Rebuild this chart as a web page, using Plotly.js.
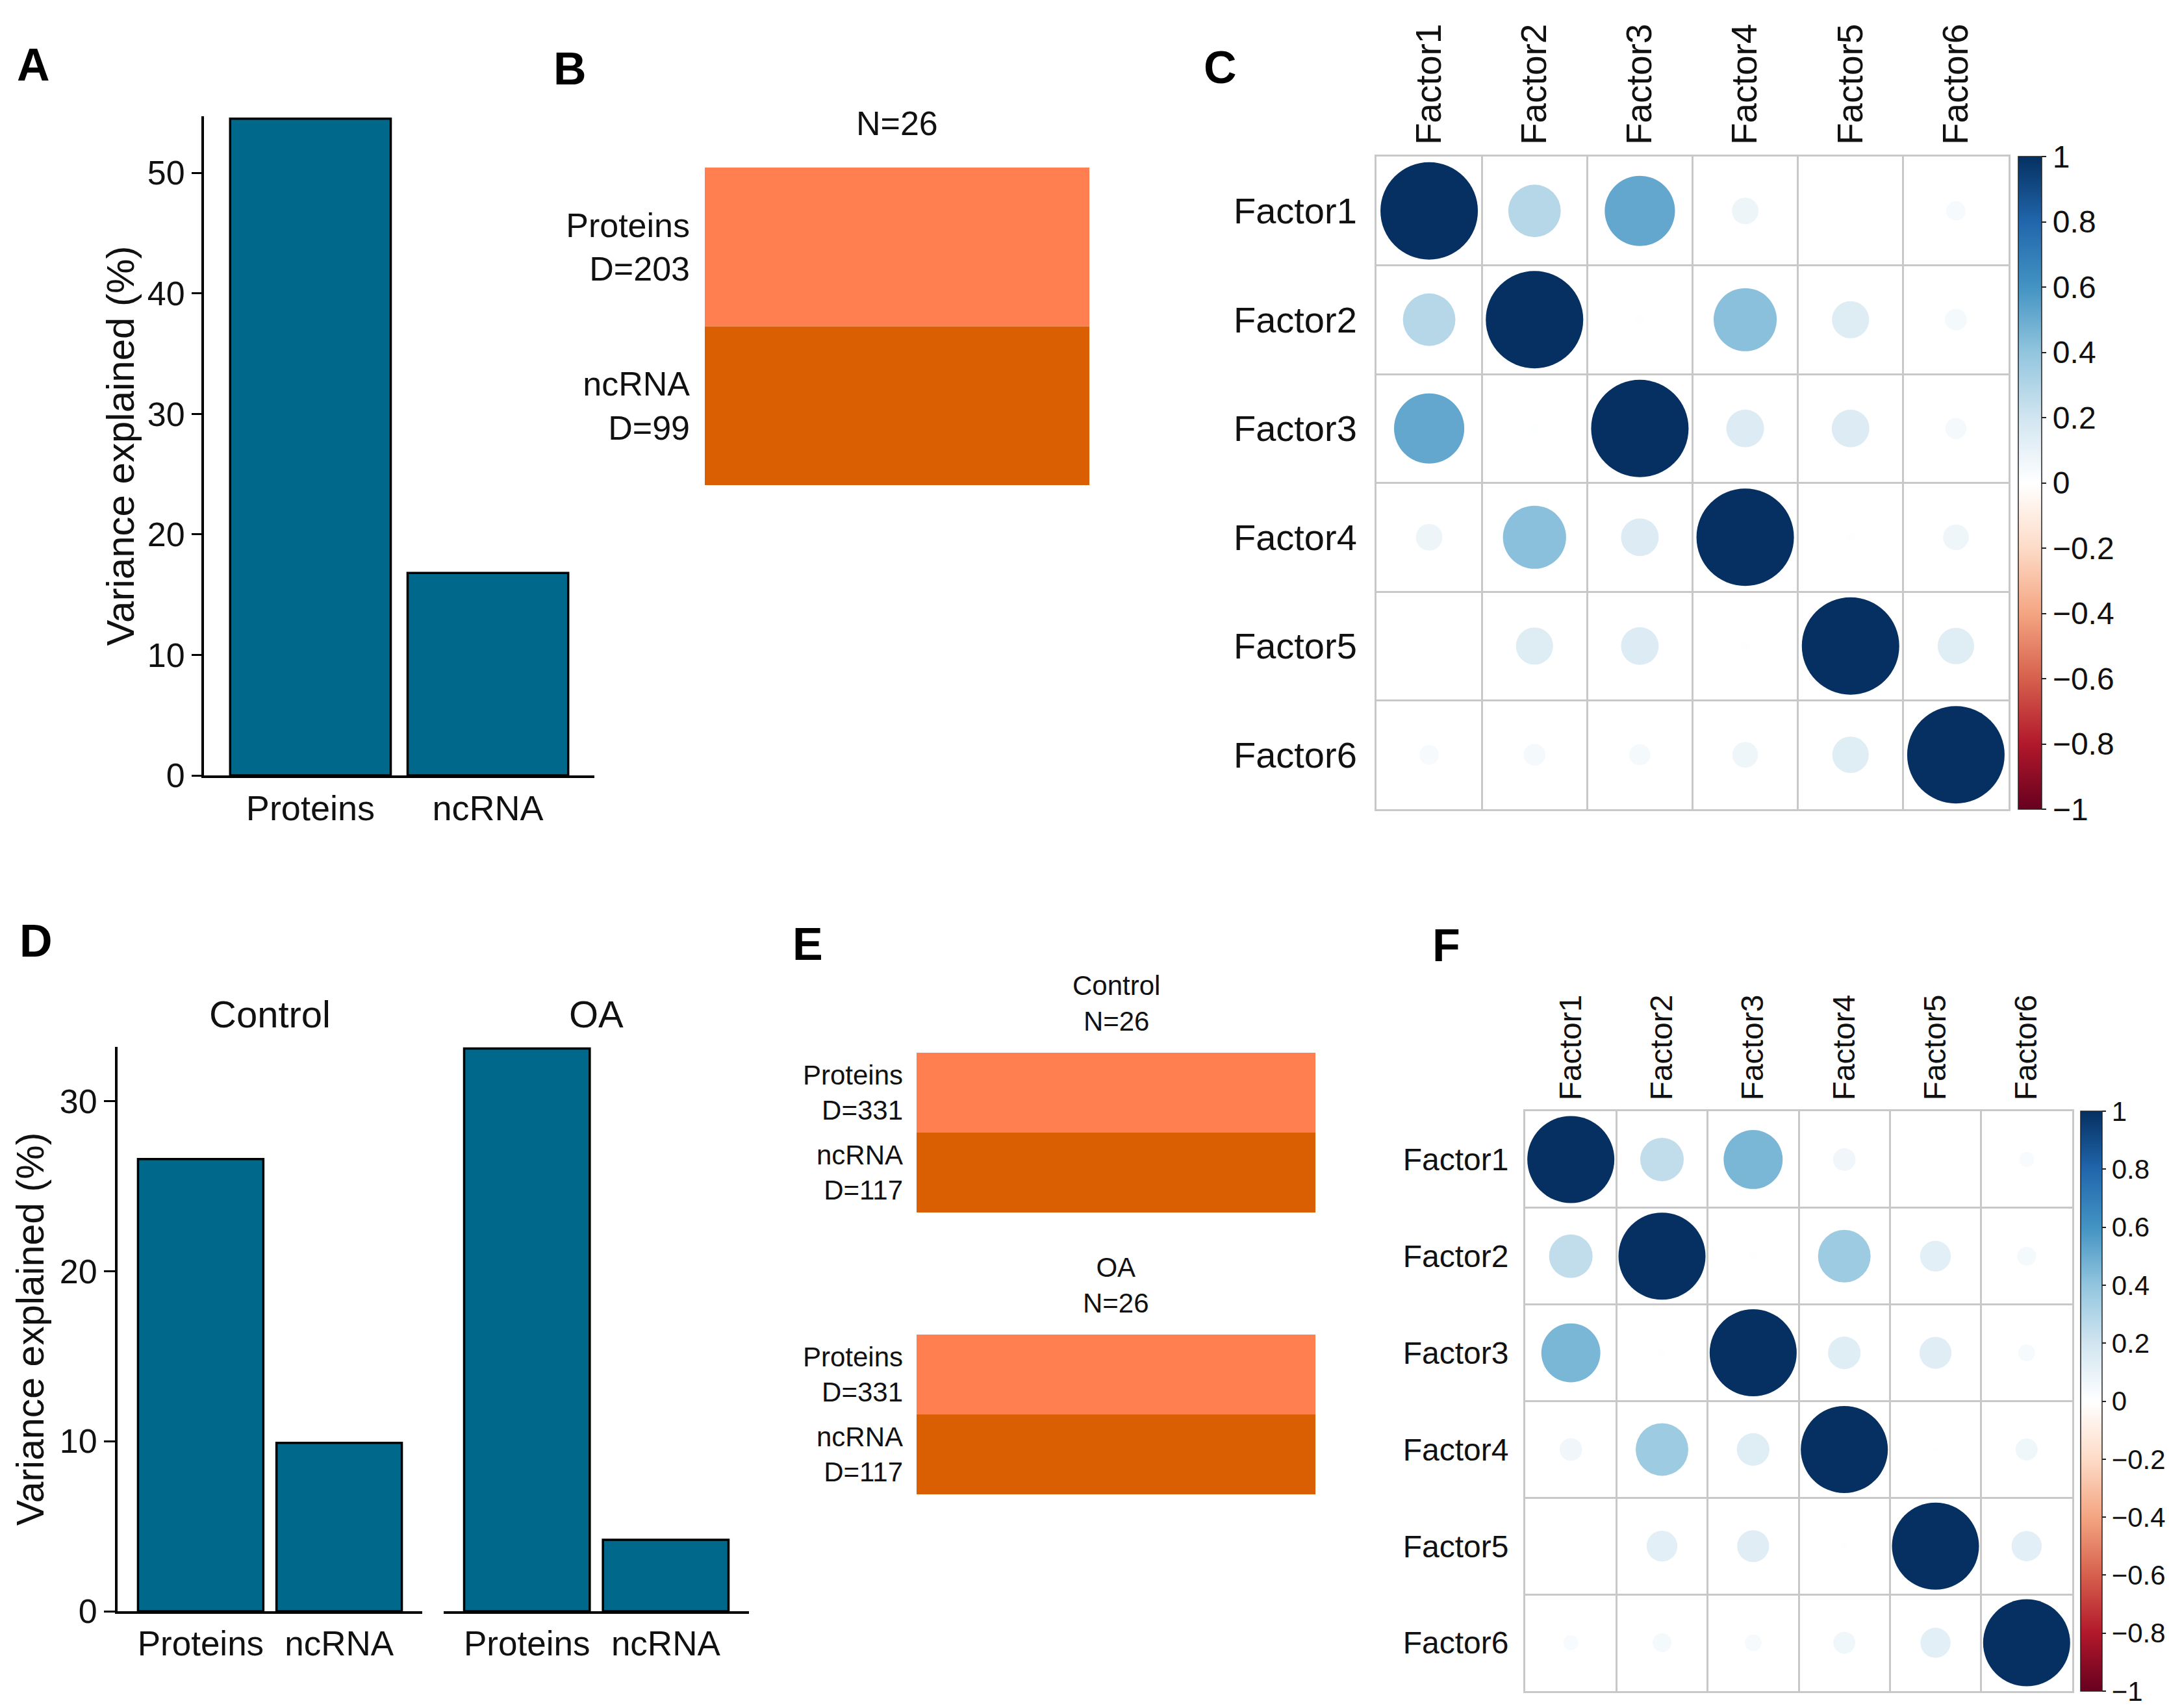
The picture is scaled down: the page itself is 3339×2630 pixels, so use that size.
<!DOCTYPE html>
<html>
<head>
<meta charset="utf-8">
<script src="https://cdn.plot.ly/plotly-3.0.1.min.js"></script>
<style>html,body{margin:0;padding:0;background:#fff;}</style>
</head>
<body>
<div id="chart" style="width:3339px;height:2630px;"></div>
<script>
// ---------------- data ----------------
const viewNames = ['Proteins', 'ncRNA'];
const varExplainedAll = [54.5, 16.8];          // panel A
const groupNames = ['Control', 'OA'];
const varExplainedControl = [26.6, 9.9];       // panel D, Control
const varExplainedOA = [33.1, 4.2];            // panel D, OA
const samplesAll = 26;                          // panel B, N
const featuresAll = [203, 99];                  // panel B, D per view
const samplesByGroup = [26, 26];                // panel E, N per group
const featuresByGroup = [331, 117];             // panel E, D per view
const factorNames = ['Factor1', 'Factor2', 'Factor3', 'Factor4', 'Factor5', 'Factor6'];
const corrC = [
  [1.00, 0.29, 0.52, 0.075, 0.00, 0.04],
  [0.29, 1.00, 0.01, 0.42, 0.145, 0.05],
  [0.52, 0.01, 1.00, 0.15, 0.15, 0.047],
  [0.075, 0.42, 0.15, 1.00, 0.01, 0.07],
  [0.00, 0.145, 0.15, 0.01, 1.00, 0.14],
  [0.04, 0.05, 0.047, 0.07, 0.14, 1.00]
];
const corrF = [
  [1.00, 0.25, 0.46, 0.067, 0.00, 0.03],
  [0.25, 1.00, 0.01, 0.365, 0.125, 0.047],
  [0.46, 0.01, 1.00, 0.14, 0.135, 0.037],
  [0.067, 0.365, 0.14, 1.00, 0.007, 0.064],
  [0.00, 0.125, 0.135, 0.007, 1.00, 0.12],
  [0.03, 0.047, 0.037, 0.064, 0.12, 1.00]
];
const colorbarTicks = [1, 0.8, 0.6, 0.4, 0.2, 0, -0.2, -0.4, -0.6, -0.8, -1];
const varTicksA = [0, 10, 20, 30, 40, 50];
const varTicksD = [0, 10, 20, 30];
const panelLetters = ['A', 'B', 'C', 'D', 'E', 'F'];

// ---------------- style ----------------
const W = 3339, H = 2630;
const FONT = 'Arial, "Liberation Sans", Helvetica, sans-serif';
const BAR_COLOR = '#00688B';
const VIEW_COLORS = ['#FF7F50', '#D95F02'];
const RDBU = [
  [0.0, '#67001F'], [0.1, '#B2182B'], [0.2, '#D6604D'], [0.3, '#F4A582'], [0.4, '#FDDBC7'],
  [0.5, '#FFFFFF'], [0.6, '#D1E5F0'], [0.7, '#92C5DE'], [0.8, '#4393C3'], [0.9, '#2166AC'], [1.0, '#053061']
];
const GRID = '#c8c8c8';
function dx(a, b) { return [a / W, b / W]; }
function dy(top, bottom) { return [1 - bottom / H, 1 - top / H]; }
function py(p) { return 1 - p / H; }

// ---------------- traces ----------------
const traces = [];
// A
traces.push({type: 'bar', x: viewNames, y: varExplainedAll, xaxis: 'x', yaxis: 'y',
  marker: {color: BAR_COLOR, line: {color: '#000', width: 3.5}}, hoverinfo: 'skip'});
// B
traces.push({type: 'bar', orientation: 'h', y: viewNames, x: viewNames.map(() => samplesAll),
  width: viewNames.map(() => 1), xaxis: 'x2', yaxis: 'y2',
  marker: {color: VIEW_COLORS, line: {width: 0}}, hoverinfo: 'skip'});
// D
traces.push({type: 'bar', x: viewNames, y: varExplainedControl, xaxis: 'x3', yaxis: 'y3',
  marker: {color: BAR_COLOR, line: {color: '#000', width: 3.5}}, hoverinfo: 'skip'});
traces.push({type: 'bar', x: viewNames, y: varExplainedOA, xaxis: 'x4', yaxis: 'y4',
  marker: {color: BAR_COLOR, line: {color: '#000', width: 3.5}}, hoverinfo: 'skip'});
// E
['x5', 'x6'].forEach((xa, gi) => {
  traces.push({type: 'bar', orientation: 'h', y: viewNames, x: viewNames.map(() => samplesByGroup[gi]),
    width: viewNames.map(() => 1), xaxis: xa, yaxis: 'y' + xa.slice(1),
    marker: {color: VIEW_COLORS, line: {width: 0}}, hoverinfo: 'skip'});
});
// C and F correlation circles
function corrTrace(mat, xa, ya, maxDiam, cb) {
  const xs = [], ys = [], sz = [], col = [];
  mat.forEach((row, i) => row.forEach((v, j) => {
    xs.push(factorNames[j]); ys.push(factorNames[i]); sz.push(Math.abs(v)); col.push(v);
  }));
  return {type: 'scatter', mode: 'markers', x: xs, y: ys, xaxis: xa, yaxis: ya, hoverinfo: 'skip',
    marker: {size: sz, sizemode: 'area', sizeref: 2 / (maxDiam * maxDiam), color: col, opacity: 1,
      cmin: -1, cmax: 1, colorscale: RDBU, showscale: true, line: {width: 0}, colorbar: cb}};
}
traces.push(corrTrace(corrC, 'x7', 'y7', 150, {
  x: 3107 / W, xanchor: 'left', xpad: 0, y: py(241), yanchor: 'top', ypad: 0,
  len: 1005 / H, lenmode: 'fraction', thickness: 36, thicknessmode: 'pixels',
  outlinewidth: 1.5, outlinecolor: '#222', tickvals: colorbarTicks, ticks: 'outside',
  ticklen: 7, tickwidth: 2, tickcolor: '#222', tickfont: {size: 48, color: '#111', family: FONT}
}));
traces.push(corrTrace(corrF, 'x8', 'y8', 134, {
  x: 3203 / W, xanchor: 'left', xpad: 0, y: py(1711), yanchor: 'top', ypad: 0,
  len: 893 / H, lenmode: 'fraction', thickness: 33, thicknessmode: 'pixels',
  outlinewidth: 1.5, outlinecolor: '#222', tickvals: colorbarTicks, ticks: 'outside',
  ticklen: 6, tickwidth: 2, tickcolor: '#222', tickfont: {size: 42, color: '#111', family: FONT}
}));

// ---------------- axes ----------------
const base = {showgrid: false, zeroline: false, fixedrange: true};
function barX(dom, anchor, fs) {
  return Object.assign({}, base, {domain: dom, anchor: anchor, type: 'category', range: [-0.6, 1.6],
    showline: true, linewidth: 4, linecolor: '#000', ticks: '', tickfont: {size: fs, color: '#111'}});
}
function barY(dom, anchor, rng, tv, fs, tfs, tl, so) {
  return Object.assign({}, base, {domain: dom, anchor: anchor, range: rng, tickvals: tv,
    ticks: 'outside', ticklen: tl, tickwidth: 3, tickcolor: '#000', showline: true, linewidth: 4,
    linecolor: '#000', tickfont: {size: fs, color: '#111'},
    title: {text: 'Variance explained (%)', font: {size: tfs, color: '#111'}, standoff: so}});
}
function ovX(dom, anchor, n) {
  return Object.assign({}, base, {domain: dom, anchor: anchor, range: [0, n], showticklabels: false,
    showline: false, ticks: ''});
}
function ovY(dom, anchor, feats, fs, standoff) {
  return Object.assign({}, base, {domain: dom, anchor: anchor, type: 'category', range: [1.5, -0.5],
    tickvals: viewNames, ticktext: viewNames.map((v, i) => v + '<br>D=' + feats[i]),
    ticks: '', showline: false, tickfont: {size: fs, color: '#111'}, ticklabelstandoff: standoff});
}
function corrAx(dom, anchor, isX, fs, standoff) {
  const ax = Object.assign({}, base, {domain: dom, anchor: anchor, type: 'category',
    categoryorder: 'array', categoryarray: factorNames, tickson: 'boundaries', ticks: '',
    showgrid: true, gridcolor: GRID, gridwidth: 3, showline: true, mirror: true,
    linecolor: GRID, linewidth: 3, tickfont: {size: fs, color: '#111'}, ticklabelstandoff: standoff});
  if (isX) { ax.range = [-0.5, 5.5]; ax.side = 'top'; ax.tickangle = -90; }
  else { ax.range = [5.5, -0.5]; }
  return ax;
}

const layout = {
  width: W, height: H, margin: {l: 0, r: 0, t: 0, b: 0, pad: 0},
  paper_bgcolor: '#fff', plot_bgcolor: 'rgba(0,0,0,0)', showlegend: false,
  font: {family: FONT, color: '#111'}, bargap: 0.095, hovermode: false,
  xaxis: barX(dx(314, 915), 'y', 54),
  yaxis: barY(dy(179, 1194), 'x', [0, 54.7], varTicksA, 52, 60, 15, 2),
  xaxis2: ovX(dx(1085, 1677), 'y2', samplesAll),
  yaxis2: ovY(dy(258, 747), 'x2', featuresAll, 52, 22),
  xaxis3: barX(dx(181, 650), 'y3', 53),
  yaxis3: barY(dy(1612, 2481), 'x3', [0, 33.2], varTicksD, 52, 59, 17, 6),
  xaxis4: barX(dx(683, 1153), 'y4', 53),
  yaxis4: Object.assign({}, base, {domain: dy(1612, 2481), anchor: 'x4', matches: 'y3',
    range: [0, 33.2], showticklabels: false, ticks: '', showline: false}),
  xaxis5: ovX(dx(1411, 2025), 'y5', samplesByGroup[0]),
  yaxis5: ovY(dy(1621, 1867), 'x5', featuresByGroup, 42, 20),
  xaxis6: ovX(dx(1411, 2025), 'y6', samplesByGroup[1]),
  yaxis6: ovY(dy(2055, 2301), 'x6', featuresByGroup, 42, 20),
  xaxis7: corrAx(dx(2119, 3092), 'y7', true, 55, 4),
  yaxis7: corrAx(dy(241, 1246), 'x7', false, 56, 16),
  xaxis8: corrAx(dx(2348, 3190), 'y8', true, 48, 4),
  yaxis8: corrAx(dy(1711, 2604), 'x8', false, 48, 13),
  annotations: []
};

// panel letters
const letterPos = [[51, 100], [878, 106], [1878, 104], [55, 1449], [1243, 1454], [2226, 1456]];
panelLetters.forEach((L, i) => {
  layout.annotations.push({text: '<b>' + L + '</b>', xref: 'paper', yref: 'paper',
    x: letterPos[i][0] / W, y: py(letterPos[i][1]), xanchor: 'center', yanchor: 'middle',
    showarrow: false, font: {size: 70, color: '#000', family: FONT}});
});
// B title
layout.annotations.push({text: 'N=' + samplesAll, xref: 'x2 domain', x: 0.5, yref: 'paper', y: py(190),
  xanchor: 'center', yanchor: 'middle', showarrow: false, font: {size: 52, color: '#111'}});
// D facet strips
[['x3 domain', groupNames[0]], ['x4 domain', groupNames[1]]].forEach(([xr, t]) => {
  layout.annotations.push({text: t, xref: xr, x: 0.5, yref: 'paper', y: py(1561),
    xanchor: 'center', yanchor: 'middle', showarrow: false, font: {size: 58, color: '#111'}});
});
// E group titles
[['x5 domain', 1545], ['x6 domain', 1979]].forEach(([xr, yc], gi) => {
  layout.annotations.push({text: groupNames[gi] + '<br>N=' + samplesByGroup[gi], xref: xr, x: 0.5,
    yref: 'paper', y: py(yc), xanchor: 'center', yanchor: 'middle', showarrow: false,
    font: {size: 42, color: '#111'}});
});

Plotly.newPlot('chart', traces, layout, {staticPlot: true, displayModeBar: false});
</script>
</body>
</html>
